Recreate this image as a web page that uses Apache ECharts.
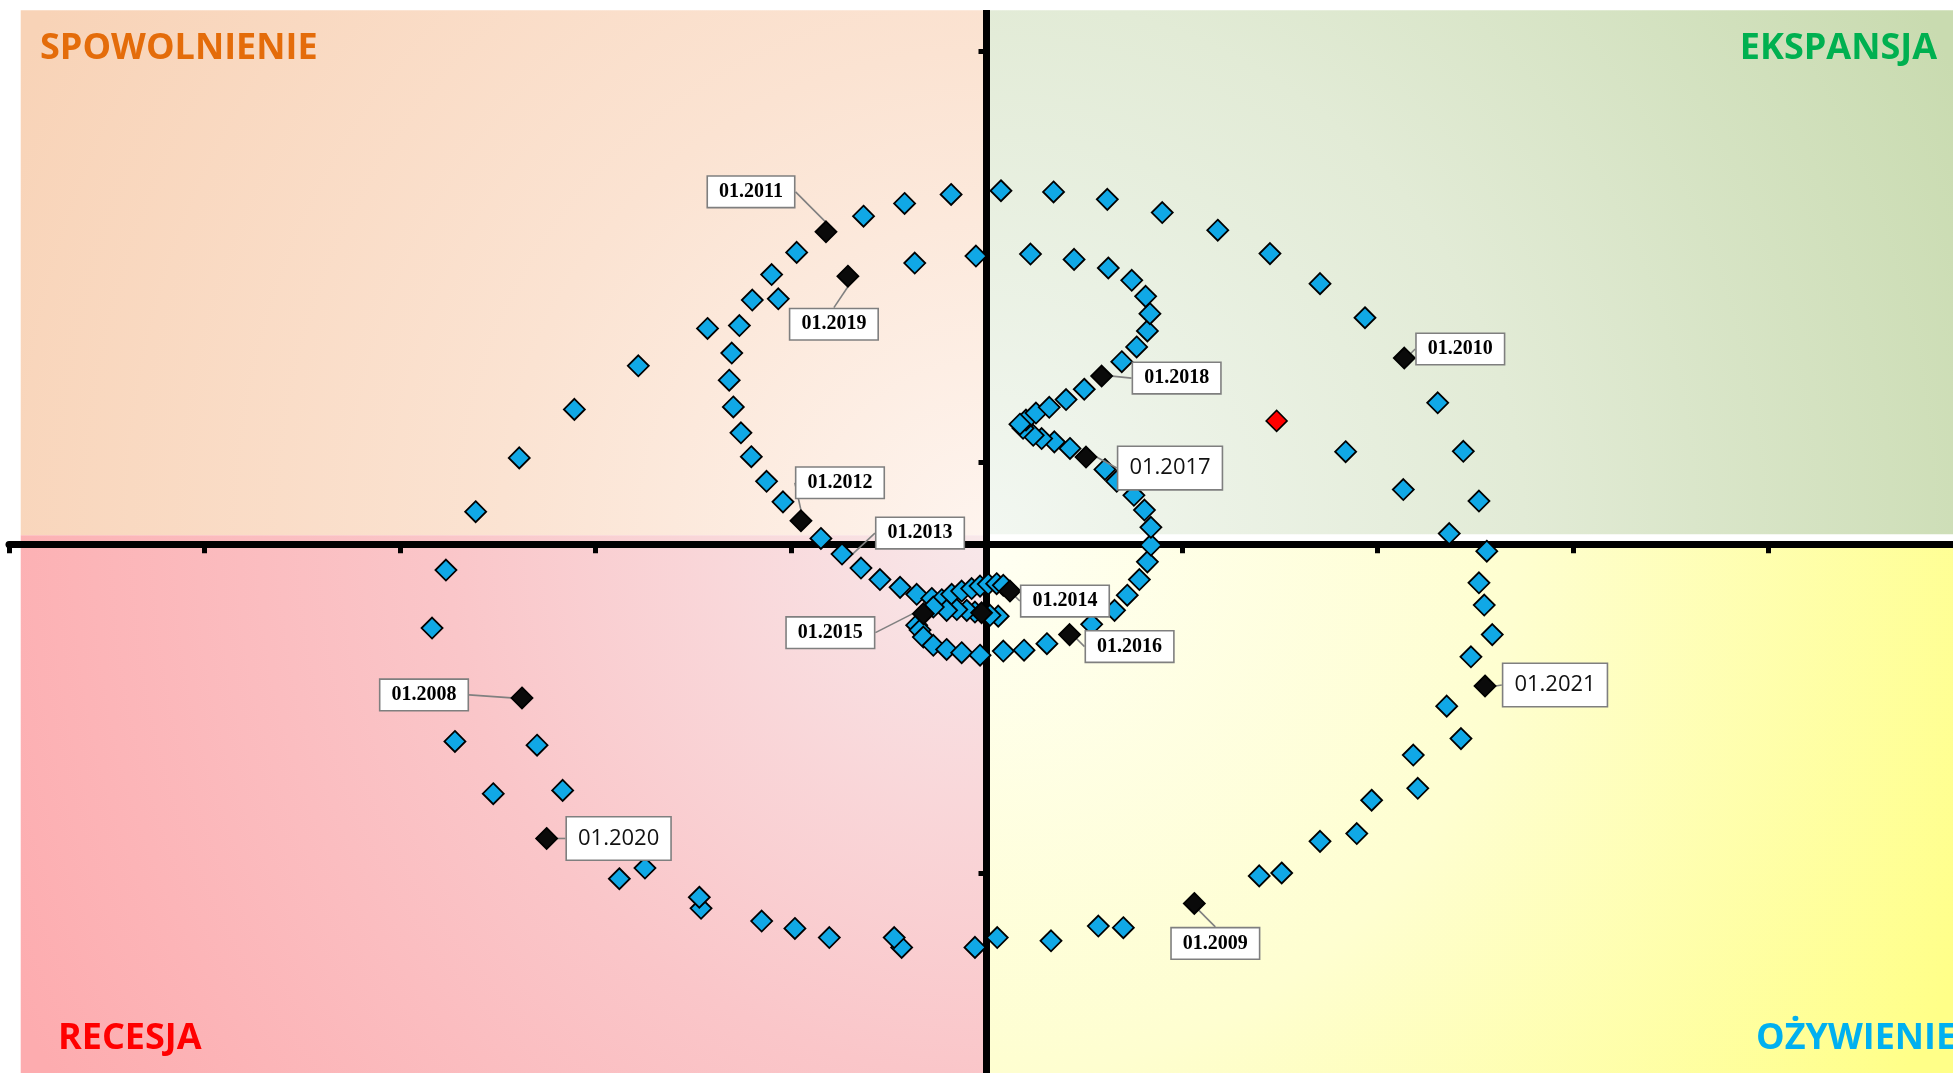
<!DOCTYPE html>
<html>
<head>
<meta charset="utf-8">
<script src="https://cdn.jsdelivr.net/npm/echarts@6/dist/echarts.min.js"></script>
<style>
html,body{margin:0;padding:0;background:#ffffff;}
#chart{width:1953px;height:1073px;}
</style>
</head>
<body>
<div id="chart"></div>
<script>
// ---------------- DATA ----------------
// monthly observations (blue diamonds)
const monthX = [-0.181,0.074,0.343,0.618,0.899,1.183,1.450,1.706,1.936,2.308,2.439,2.519,2.559,2.519,2.546,2.587,2.478,2.354,2.427,2.183,2.206,1.970,1.894,1.706,1.510,1.395,0.700,0.572,0.330,0.055,-0.059,-0.434,-0.472,-0.804,-0.980,-1.150,-1.460,-1.469,-1.747,-1.878,-2.168,-2.523,-2.299,-2.719,-2.836,-2.765,-2.613,-2.390,-2.108,-1.781,-1.427,-1.264,-1.198,-1.065,-1.099,-0.971,-0.629,-0.419,-1.303,-1.316,-1.295,-1.256,-1.203,-1.125,-1.041,-0.847,
  -0.642,-0.545,-0.442,-0.357,-0.280,-0.229,-0.178,-0.127,-0.076,-0.033,0.009,0.052,0.086,0.060,0.018,-0.059,-0.101,-0.152,-0.204,-0.272,-0.357,-0.340,-0.323,-0.272,-0.204,-0.127,-0.033,0.086,0.192,0.309,0.538,0.655,0.720,0.782,0.823,0.841,0.841,0.808,0.754,0.666,0.606,0.427,0.347,0.282,0.239,0.187,0.202,0.253,0.321,0.407,0.500,0.692,0.768,0.823,0.836,0.814,0.743,0.623,0.448,0.225,-0.054,-0.367,1.837,2.132,2.367,0.171];
const monthY = [0.851,0.860,0.857,0.839,0.807,0.764,0.707,0.634,0.551,0.344,0.226,0.105,-0.017,-0.094,-0.148,-0.220,-0.274,-0.394,-0.473,-0.513,-0.594,-0.623,-0.704,-0.723,-0.800,-0.807,-0.933,-0.929,-0.965,-0.957,-0.981,-0.981,-0.957,-0.957,-0.935,-0.917,-0.886,-0.859,-0.788,-0.814,-0.599,-0.607,-0.489,-0.480,-0.204,-0.063,0.079,0.210,0.328,0.434,0.525,0.532,0.594,0.597,0.656,0.710,0.798,0.829,0.465,0.399,0.334,0.271,0.213,0.153,0.103,0.014,
  -0.058,-0.086,-0.105,-0.122,-0.132,-0.135,-0.122,-0.114,-0.108,-0.102,-0.097,-0.096,-0.100,-0.175,-0.173,-0.165,-0.161,-0.159,-0.161,-0.153,-0.197,-0.209,-0.226,-0.246,-0.256,-0.264,-0.270,-0.260,-0.258,-0.242,-0.195,-0.161,-0.124,-0.086,-0.043,-0.002,0.041,0.083,0.119,0.153,0.182,0.233,0.249,0.257,0.265,0.282,0.302,0.319,0.333,0.352,0.377,0.444,0.480,0.519,0.561,0.603,0.642,0.672,0.693,0.706,0.701,0.684,0.225,0.133,0.026,0.292];

// January observations (black diamonds with callouts); last one is an unlabeled dark point
const janLabels = ['01.2008','01.2009','01.2010','01.2011','01.2012','01.2013','01.2014','01.2015','01.2016','01.2017','01.2018','01.2019','01.2020','01.2021',''];
const janX = [-2.376,1.063,2.137,-0.821,-0.949,-0.739,0.120,-0.323,0.425,0.509,0.589,-0.709,-2.250,2.550,-0.025];
const janY = [-0.374,-0.874,0.453,0.760,0.057,-0.024,-0.114,-0.169,-0.220,0.212,0.409,0.652,-0.716,-0.345,-0.167];

// latest observation (red diamond)
const latestX = [1.484];
const latestY = [0.300];

// quadrant names
const quadrantNames = ['SPOWOLNIENIE','EKSPANSJA','RECESJA','OŻYWIENIE'];

// ---------------- STYLE / LAYOUT CONFIG ----------------
const BLUE = '#10A8E6';
const quadrantTitleStyle = {
  'SPOWOLNIENIE': {left: 40, top: 29, color: '#E46C0A'},
  'EKSPANSJA':    {right: 16, top: 29, color: '#00B050'},
  'RECESJA':      {left: 58, top: 1019, color: '#FF0000'},
  'OŻYWIENIE':    {left: 1756, top: 1019, color: '#00B0F0'}
};
// callout offsets (px from marker centre to box centre)
const calloutOffset = {
  '01.2008': [-98, -3], '01.2009': [21, 40], '01.2010': [56, -9], '01.2011': [-75, -40],
  '01.2012': [39, -38], '01.2013': [78, -21], '01.2014': [55, 10], '01.2015': [-93, 19],
  '01.2016': [60, 12], '01.2017': [84, 11], '01.2018': [75, 2], '01.2019': [-14, 48],
  '01.2020': [72, 0], '01.2021': [70, -1]
};
const sansCallouts = ['01.2017','01.2020','01.2021'];
const blueJanuary = ['01.2013'];

const serifLabel = {
  fontFamily: '"Liberation Serif","DejaVu Serif",serif', fontWeight: 'bold', fontSize: 20,
  lineHeight: 20, color: '#000', backgroundColor: '#ffffff', borderColor: '#7f7f7f',
  borderWidth: 1.6, padding: [5, 11, 5, 11]
};
const sansLabel = {
  fontFamily: '"Open Sans","Liberation Sans",sans-serif', fontWeight: 'normal', fontSize: 22,
  lineHeight: 26, color: '#111', backgroundColor: '#ffffff', borderColor: '#7f7f7f',
  borderWidth: 1.6, padding: [8, 11, 8, 11]
};

// quadrant extents (axis units) and gradients
const Q = {xl: -4.94, xr: 4.95, yt: 1.299, yb: -1.29, split: 0.022};
function radial(cx, cy, r, stops) {
  return {type: 'radial', x: cx, y: cy, r: r,
    colorStops: stops.map(s => ({offset: s[0], color: s[1]}))};
}
const quadrantAreas = [
  [{coord: [Q.xl, Q.yt], itemStyle: {color: radial(1, 1, 2.05, [[0, '#fef4ee'], [0.45, '#fbe3d2'], [1, '#f8d3b7']])}}, {coord: [0, Q.split]}],
  [{coord: [0, Q.yt], itemStyle: {color: radial(0, 1, 2.05, [[0, '#f2f7f1'], [0.5, '#e2ebd6'], [1, '#c9dbb0']])}}, {coord: [Q.xr, Q.split + 0.002]}],
  [{coord: [Q.xl, Q.split], itemStyle: {color: radial(1, 0, 2.0, [[0, '#f8e8ea'], [0.5, '#fac6c9'], [1, '#fdacaf']])}}, {coord: [0, Q.yb]}],
  [{coord: [0, 0.004], itemStyle: {color: radial(0, 0, 2.0, [[0, '#fffff3'], [0.5, '#fefed0'], [1, '#ffff88']])}}, {coord: [Q.xr, Q.yb]}]
];

// ---------------- CHART ----------------
const chart = echarts.init(document.getElementById('chart'), null, {renderer: 'canvas'});

const monthData = monthX.map((x, i) => [x, monthY[i]]);
const janData = janLabels.map((name, i) => {
  const item = {name: name, value: [janX[i], janY[i]]};
  if (name === '') {
    item.label = {show: false};
  } else {
    item.label = Object.assign({show: true, formatter: name}, sansCallouts.includes(name) ? sansLabel : serifLabel);
  }
  if (blueJanuary.includes(name)) item.itemStyle = {color: BLUE};
  return item;
});
const latestData = latestX.map((x, i) => [x, latestY[i]]);

const option = {
  animation: false,
  backgroundColor: '#ffffff',
  title: quadrantNames.map(n => Object.assign({
    text: n, padding: 0,
    textStyle: {fontFamily: '"Open Sans","Liberation Sans",sans-serif', fontWeight: 'bold', fontSize: 36,
      lineHeight: 40, color: quadrantTitleStyle[n].color}
  }, (({color, ...pos}) => pos)(quadrantTitleStyle[n]))),
  grid: {left: 9, right: -11, top: -360, bottom: -211, containLabel: false, outerBoundsMode: 'none'},
  xAxis: {
    type: 'value', min: -5, max: 5, interval: 1, z: 1,
    axisLine: {show: true, onZero: true, onZeroAxisIndex: 0, lineStyle: {color: '#000', width: 7}},
    axisTick: {show: true, inside: false, length: 9, lineStyle: {color: '#000', width: 5}},
    axisLabel: {show: false}, splitLine: {show: false}
  },
  yAxis: [
    {
      type: 'value', min: -1.8, max: 2.2, z: 1, position: 'left',
      axisLine: {show: true, onZero: true, onZeroAxisIndex: 0, lineStyle: {color: '#000', width: 7}},
      axisTick: {show: false}, axisLabel: {show: false}, splitLine: {show: false}
    },
    {
      type: 'value', min: -1, max: 3, interval: 1, z: 1, position: 'left',
      axisLine: {show: true, onZero: true, onZeroAxisIndex: 0, lineStyle: {color: '#000', width: 7}},
      axisTick: {show: true, inside: false, length: 8, lineStyle: {color: '#000', width: 5}},
      axisLabel: {show: false}, splitLine: {show: false}
    }
  ],
  graphic: [{type: 'rect', left: 0, top: 0, z: 100, shape: {width: 1953, height: 10}, style: {fill: '#ffffff'}}],
  series: [
    {
      name: 'quadrants', type: 'scatter', data: [], z: 0, silent: true,
      markArea: {silent: true, z: 0, label: {show: false}, data: quadrantAreas}
    },
    {
      name: 'miesiące', type: 'scatter', z: 3, data: monthData,
      symbol: 'diamond', symbolSize: 21,
      itemStyle: {color: BLUE, borderColor: '#000', borderWidth: 1.8, opacity: 1},
      emphasis: {disabled: true}
    },
    {
      name: 'styczeń', type: 'scatter', z: 4, data: janData,
      symbol: 'diamond', symbolSize: 21,
      itemStyle: {color: '#0a0a0a', borderColor: '#000', borderWidth: 1.8, opacity: 1},
      label: {show: true, position: 'inside'},
      labelLine: {show: true, lineStyle: {color: '#808080', width: 1.6}},
      labelLayout: function (p) {
        const off = calloutOffset[janLabels[p.dataIndex]];
        if (!off) return {};
        return {
          x: p.rect.x + p.rect.width / 2 + off[0],
          y: p.rect.y + p.rect.height / 2 + off[1],
          align: 'center', verticalAlign: 'middle', hideOverlap: false
        };
      },
      emphasis: {disabled: true}
    },
    {
      name: 'ostatni', type: 'scatter', z: 5, data: latestData,
      symbol: 'diamond', symbolSize: 21,
      itemStyle: {color: '#FF0000', borderColor: '#000', borderWidth: 1.5, opacity: 1},
      emphasis: {disabled: true}
    }
  ]
};
chart.setOption(option);
</script>
</body>
</html>
